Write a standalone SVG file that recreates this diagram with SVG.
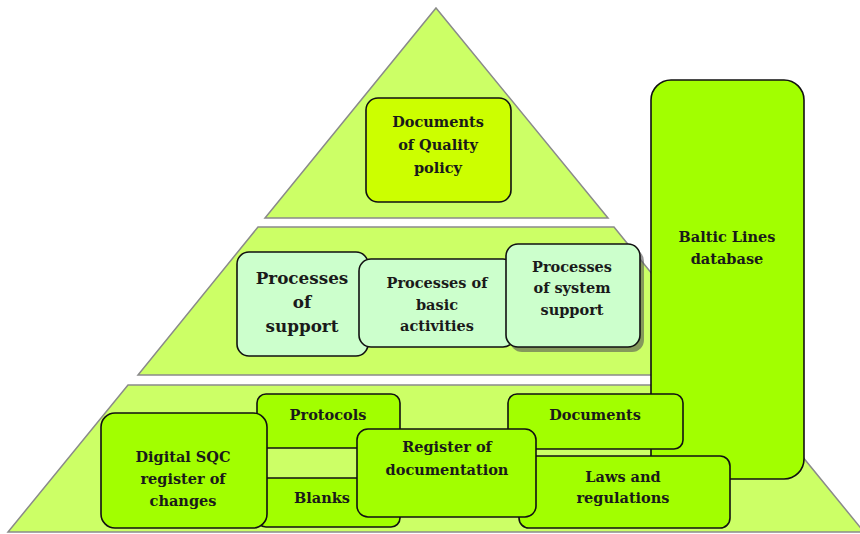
<svg xmlns="http://www.w3.org/2000/svg" width="860" height="534" viewBox="0 0 860 534">
<style>
.layer{fill:#ccff66;stroke:#8a8a8a;stroke-width:1.5}
.box{stroke:#111;stroke-width:1.6}
.q{fill:#ccff00}
.m{fill:#ccffcc}
.g{fill:#a2ff00}
text{font-family:"DejaVu Serif","Liberation Serif",serif;font-weight:bold;font-size:14.5px;fill:#1a1a1a;text-anchor:middle}
.big{font-size:16.8px}
</style>
<rect width="860" height="534" fill="#ffffff"/>
<g id="pyramid">
<polygon class="layer" points="128,385 744,385 864,532 8,532"/>
<polygon class="layer" points="258,227 614,227 734,375 138,375"/>
<polygon class="layer" points="436,8 608,218 265,218"/>
</g>
<g id="connectors"></g>
<g id="quality">
<rect class="box q" x="366" y="98" width="145" height="104" rx="12"/>
<text x="438" y="127">Documents</text>
<text x="438" y="150">of Quality</text>
<text x="438" y="173">policy</text>
</g>
<g id="baltic">
<rect class="box g" x="651" y="80" width="153" height="399" rx="20"/>
<text x="727" y="242">Baltic Lines</text>
<text x="727" y="264">database</text>
</g>
<g id="support">
<rect class="box m" x="237" y="252" width="131" height="104" rx="12"/>
<text class="big" x="302" y="284">Processes</text>
<text class="big" x="302" y="308">of</text>
<text class="big" x="302" y="332">support</text>
</g>
<g id="basic">
<rect class="box m" x="359" y="259" width="156" height="88" rx="12"/>
<text x="437" y="288">Processes of</text>
<text x="437" y="310">basic</text>
<text x="437" y="331">activities</text>
</g>
<g id="system">
<rect x="510" y="249" width="134" height="103" rx="12" fill="#555" opacity="0.6"/>
<rect class="box m" x="506" y="244" width="134" height="103" rx="12"/>
<text x="572" y="272">Processes</text>
<text x="572" y="293">of system</text>
<text x="572" y="315">support</text>
</g>
<g id="documents">
<rect class="box g" x="508" y="394" width="175" height="55" rx="9"/>
<text x="595" y="420">Documents</text>
</g>
<g id="laws">
<rect class="box g" x="519" y="456" width="211" height="72" rx="10"/>
<text x="623" y="482">Laws and</text>
<text x="623" y="503">regulations</text>
</g>
<g id="protocols">
<rect class="box g" x="257" y="394" width="143" height="54" rx="9"/>
<text x="328" y="420">Protocols</text>
</g>
<g id="blanks">
<rect class="box g" x="257" y="478" width="143" height="49" rx="9"/>
<text x="322" y="503">Blanks</text>
</g>
<g id="digital">
<rect class="box g" x="101" y="413" width="166" height="115" rx="14"/>
<text x="183" y="462">Digital SQC</text>
<text x="183" y="484">register of</text>
<text x="183" y="506">changes</text>
</g>
<g id="register">
<rect class="box g" x="357" y="429" width="179" height="88" rx="11"/>
<text x="447" y="452">Register of</text>
<text x="447" y="475">documentation</text>
</g>
</svg>
